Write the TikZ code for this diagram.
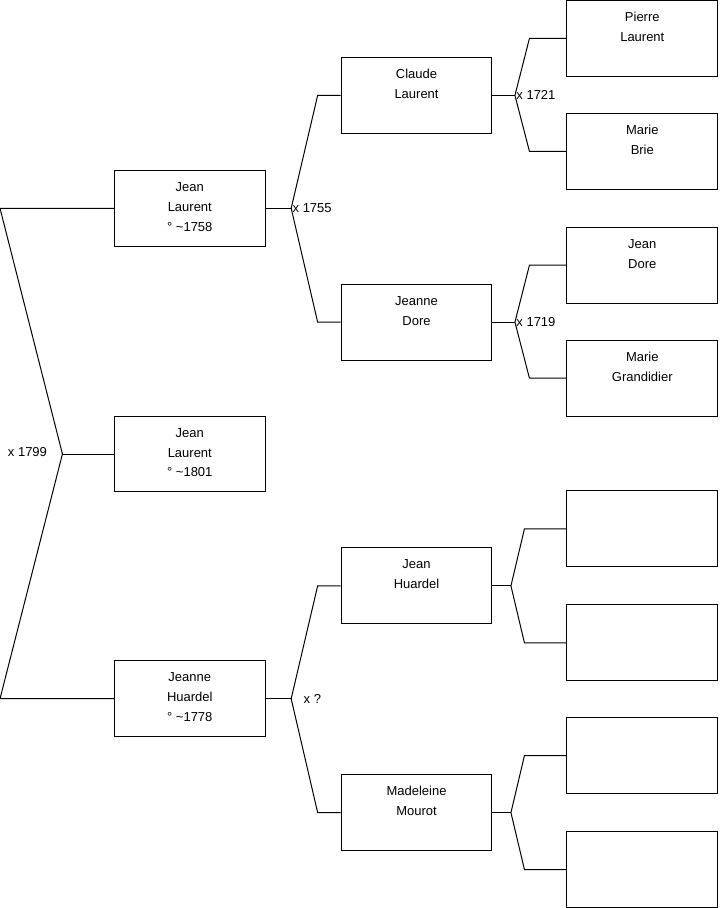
\documentclass[tikz,border=0pt]{standalone}
\usepackage{fontspec}
\setmainfont{Liberation Sans}
\usepackage{tikz}
\usetikzlibrary{positioning,calc}
\newcommand{\pbox}[1]{\parbox[c][76pt][t]{151pt}{\centering\rule{0pt}{21pt}#1}}

\begin{document}
\begin{tikzpicture}[x=1pt,y=-1pt,line width=1pt,
    every node/.style={font=\fontsize{13}{20}\selectfont},
    person/.style={draw,inner sep=0pt},
    mar/.style={inner sep=1pt}]
  \useasboundingbox (-0.5,-0.5) rectangle (719.5,908.5);
  % generation 0
  \node[person] (jl)   at (189.5,208) {\pbox{Jean\\Laurent\\° \textasciitilde 1758}};
  \node[person] (jl2)  at (189.5,454) {\pbox{Jean\\Laurent\\° \textasciitilde 1801}};
  \node[person] (jh)   at (189.5,699) {\pbox{Jeanne\\Huardel\\° \textasciitilde 1778}};
  % generation 1
  \node[person] (cl)   at (416.5,95)  {\pbox{Claude\\Laurent}};
  \node[person] (jd)   at (416.5,322) {\pbox{Jeanne\\Dore}};
  \node[person] (jhu)  at (416.5,586) {\pbox{Jean\\Huardel}};
  \node[person] (mm)   at (416.5,813) {\pbox{Madeleine\\Mourot}};
  % generation 2
  \node[person] (pl)   at (642.5,38)  {\pbox{Pierre\\Laurent}};
  \node[person] (mb)   at (642.5,151) {\pbox{Marie\\Brie}};
  \node[person] (jdo)  at (642.5,265) {\pbox{Jean\\Dore}};
  \node[person] (mg)   at (642.5,378) {\pbox{Marie\\Grandidier}};
  \node[person] (e1)   at (642.5,529) {\pbox{}};
  \node[person] (e2)   at (642.5,643) {\pbox{}};
  \node[person] (e3)   at (642.5,756) {\pbox{}};
  \node[person] (e4)   at (642.5,870) {\pbox{}};

  % forks
  \coordinate (m0) at (62,454);
  \coordinate (m1) at (291,208);
  \coordinate (m2) at (291,699);
  \coordinate (m3) at (515,95);
  \coordinate (m4) at (515,322);
  \coordinate (m5) at (511,586);
  \coordinate (m6) at (511,813);

  \draw (jl2.west) -- (m0);
  \draw (jl.west) -- ([xshift=-114pt]jl.west) -- (m0) -- ([xshift=-114pt]jh.west) -- (jh.west);
  \node[mar,anchor=east] (t0) at (48,452) {x 1799};

  \draw (jl.east) -- (m1);
  \draw (cl.west) -- ([xshift=-23pt]cl.west) -- (m1) -- ([xshift=-23pt]jd.west) -- (jd.west);
  \node[mar,anchor=west] (t1) at (m1) {x 1755};

  \draw (jh.east) -- (m2);
  \draw (jhu.west) -- ([xshift=-23pt]jhu.west) -- (m2) -- ([xshift=-23pt]mm.west) -- (mm.west);
  \node[mar,anchor=west] (t2) at (302,699) {x ?};

  \draw (cl.east) -- (m3);
  \draw (pl.west) -- ([xshift=-37pt]pl.west) -- (m3) -- ([xshift=-37pt]mb.west) -- (mb.west);
  \node[mar,anchor=west] (t3) at (m3) {x 1721};

  \draw (jd.east) -- (m4);
  \draw (jdo.west) -- ([xshift=-37pt]jdo.west) -- (m4) -- ([xshift=-37pt]mg.west) -- (mg.west);
  \node[mar,anchor=west] (t4) at (m4) {x 1719};

  \draw (jhu.east) -- (m5);
  \draw (e1.west) -- ([xshift=-42pt]e1.west) -- (m5) -- ([xshift=-42pt]e2.west) -- (e2.west);

  \draw (mm.east) -- (m6);
  \draw (e3.west) -- ([xshift=-42pt]e3.west) -- (m6) -- ([xshift=-42pt]e4.west) -- (e4.west);
\end{tikzpicture}
\end{document}
